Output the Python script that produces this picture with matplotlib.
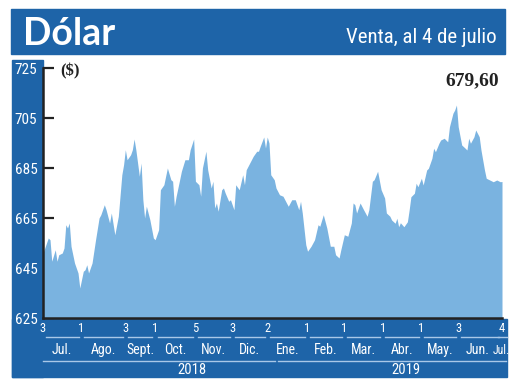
import matplotlib.pyplot as plt
import matplotlib.transforms as mtransforms
from matplotlib.patches import Rectangle
from matplotlib import font_manager

# Dolar observado, venta (Jul-2018 a Jul-2019), x = dia habil desde el 3 de julio
dia = [0, 3, 4, 5, 7, 8, 9, 11, 12, 13, 14, 15, 16, 18, 20, 21, 23, 24, 25, 26,
       28, 30, 32, 33, 35, 36, 38, 39, 41, 43, 45, 46, 47, 48, 50, 51, 52, 53,
       55, 56, 57, 58, 59, 61, 63,
       64, 66, 67, 69, 70, 71, 73, 74, 75, 76, 78, 79, 81, 83, 84, 86, 87, 89,
       90, 91, 93, 94, 96, 97, 98, 99, 100, 102, 103, 104, 106, 107, 109, 110,
       112, 114, 115, 116, 118, 120, 122, 123, 124, 126, 127, 128, 129, 130,
       132, 133, 135, 137, 139, 140, 142, 144, 146, 147, 148, 150, 151, 153,
       155, 157, 158, 160, 162, 164, 166, 167, 169, 170, 172, 174, 176, 177,
       178, 179, 181, 183, 185, 186, 188, 189, 191, 193, 195, 196, 198,
       199, 201, 202, 203, 204, 206, 208, 209, 210, 212, 213, 214, 216, 217,
       219, 220, 222, 223, 224, 226, 227, 229, 231, 232, 234, 235, 236, 237,
       239, 241, 242, 243, 244, 246, 247, 249, 250, 252, 253, 255, 257, 259,
       261, 262]
valor = [651.0, 657.0, 656.3, 647.7, 652.3, 647.7, 650.3, 651.0, 653.0, 662.3,
         661.0, 663.0, 653.7, 647.0, 643.0, 637.0, 643.7, 644.3, 646.3, 643.0,
         647.0, 656.3, 665.0, 666.3, 670.3, 668.3, 663.0, 667.0, 658.3, 665.7,
         682.3, 686.3, 692.3, 688.3, 690.3, 692.3, 696.6, 692.3, 681.7, 687.0,
         672.3, 665.0, 669.7, 664.3, 657.0,
         656.3, 660.3, 676.3, 678.3, 681.7, 685.0, 680.3, 679.7, 669.7, 673.7,
         680.3, 683.7, 688.3, 688.3, 692.3, 696.6, 679.7, 678.3, 673.7, 685.0,
         691.7, 684.3, 677.0, 679.7, 669.0, 671.0, 667.7, 676.3, 677.0, 675.0,
         671.7, 672.3, 668.3, 678.3, 676.3, 682.3, 678.3, 684.3, 687.0, 689.7,
         691.7, 691.7, 693.7, 697.4, 693.0, 697.4, 695.0, 682.3,
         680.3, 677.0, 674.3, 673.7, 671.0, 669.7, 672.3, 672.3, 668.3, 671.7,
         667.0, 654.3, 651.7, 653.7, 656.3, 662.3, 661.7, 666.3, 661.0, 653.7,
         653.7, 650.3, 649.0, 652.3, 658.3, 657.7, 663.0, 671.0, 670.3, 667.0,
         671.0, 668.3, 665.7, 668.3, 679.7, 680.3, 683.7, 676.3, 673.0, 667.0,
         665.7,
         664.2, 662.9, 664.9, 661.5, 663.1, 661.5, 663.5, 668.2, 673.5, 674.9,
         678.9, 677.5, 680.9, 678.2, 684.2, 684.9, 688.9, 692.9, 691.5, 694.9,
         696.2, 696.9, 695.5, 701.5, 706.9, 708.2, 710.2, 701.5, 694.2, 692.9,
         692.2, 696.9, 694.9, 697.5, 700.2, 697.5, 692.2, 684.2, 680.9, 680.2,
         679.5, 680.2, 679.5, 679.6]

dias_tick = [0, 22, 47, 64, 87, 108, 128, 151, 172, 194, 216, 237, 262]
dias_label = ['3', '1', '3', '1', '5', '3', '2', '1', '1', '1', '1', '3', '4']
meses = ['Jul.', 'Ago.', 'Sept.', 'Oct.', 'Nov.', 'Dic.', 'Ene.', 'Feb.',
         'Mar.', 'Abr.', 'May.', 'Jun.', 'Jul.']
anios = ['2018', '2019']
anios_rango = [(0, 132.5), (134, 264)]
anios_pos = [85, 207]

AZUL = '#1e64a8'
CELESTE = '#7ab3e0'
LINEA = '#a9c8e8'
W, H = 520, 390

# fuente angosta si existe; si no, una sans comun con tamanos menores
nombres = {f.name for f in font_manager.fontManager.ttflist}
ANGOSTA = 'Liberation Sans'
esc = 0.82
for cand in ['Liberation Sans Narrow', 'Roboto Condensed', 'Open Sans Condensed']:
    if cand in nombres:
        ANGOSTA = cand
        esc = 1.0
        break

plt.rcParams['font.family'] = [ANGOSTA, 'DejaVu Sans']

fig = plt.figure(figsize=(5.2, 3.9), dpi=100)


def fx(x):
    return x / W


def fy(y):
    return 1 - y / H


def bloque(x0, y0, x1, y1):
    fig.add_artist(Rectangle((fx(x0), fy(y1)), (x1 - x0) / W, (y1 - y0) / H,
                             transform=fig.transFigure, color=AZUL, zorder=0))


# fondos azules
bloque(11, 9, 505, 54)
bloque(12, 60, 43, 377)
bloque(12, 319, 507, 377)

ax = fig.add_axes([fx(43), fy(318), (502 - 43) / W, (318 - 68) / H])
ax.fill_between(dia, valor, 625, color=CELESTE, lw=0)
ax.set_xlim(0, 262)
ax.set_ylim(625, 725)
ax.set_axisbelow(True)

for s in ['top', 'right']:
    ax.spines[s].set_visible(False)
for s in ['left', 'bottom']:
    ax.spines[s].set_color('#222222')
    ax.spines[s].set_linewidth(1.8)

ax.set_yticks([625, 645, 665, 685, 705, 725])
ax.tick_params(axis='y', direction='in', length=8, width=1.6, color='#222222',
               labelcolor='white', labelsize=11 * esc, pad=4)
ax.set_xticks(dias_tick)
ax.set_xticklabels(dias_label)
ax.tick_params(axis='x', length=0, labelcolor='white', labelsize=9 * esc, pad=3)

trans = mtransforms.blended_transform_factory(ax.transData, ax.transAxes)

# lineas de meses y nombres
pos_meses = [(dias_tick[i] + dias_tick[i + 1]) / 2 for i in range(len(dias_tick) - 1)]
pos_meses[-1] -= 1.5
for i in range(len(dias_tick) - 1):
    ax.plot([dias_tick[i] + 1.5, dias_tick[i + 1] - 1.5], [-0.076, -0.076],
            transform=trans, clip_on=False, color=LINEA, lw=1)
    ax.text(pos_meses[i], -0.128, meses[i], transform=trans, ha='center',
            va='center', color='white', fontsize=10 * esc)
ax.plot([259.5, 265], [-0.076, -0.076], transform=trans, clip_on=False,
        color=LINEA, lw=1)
ax.text(261.8, -0.128, meses[-1], transform=trans, ha='center', va='center',
        color='white', fontsize=8.5 * esc)

# anios
for (a, b), p, t in zip(anios_rango, anios_pos, anios):
    ax.plot([a, b], [-0.172, -0.172], transform=trans, clip_on=False,
            color=LINEA, lw=1)
    ax.text(p, -0.206, t, transform=trans, ha='center', va='center',
            color='white', fontsize=10.5 * esc)

# textos
fig.text(fx(23), fy(45), 'Dólar', color='white', fontsize=27,
         fontweight='bold', family=['Lato', 'DejaVu Sans'], va='baseline')
fig.text(fx(497), fy(43), 'Venta, al 4 de julio', color='white',
         fontsize=15 * esc, ha='right', va='baseline')
fig.text(fx(499), fy(85), '679,60', color='#222222', fontsize=14,
         fontweight='bold', family=['Liberation Serif'], ha='right', va='baseline')
fig.text(fx(60), fy(71), '($)', color='#222222', fontsize=12,
         fontweight='bold', family=['Liberation Serif'], va='center')

fig.savefig('out.png', dpi=100)
